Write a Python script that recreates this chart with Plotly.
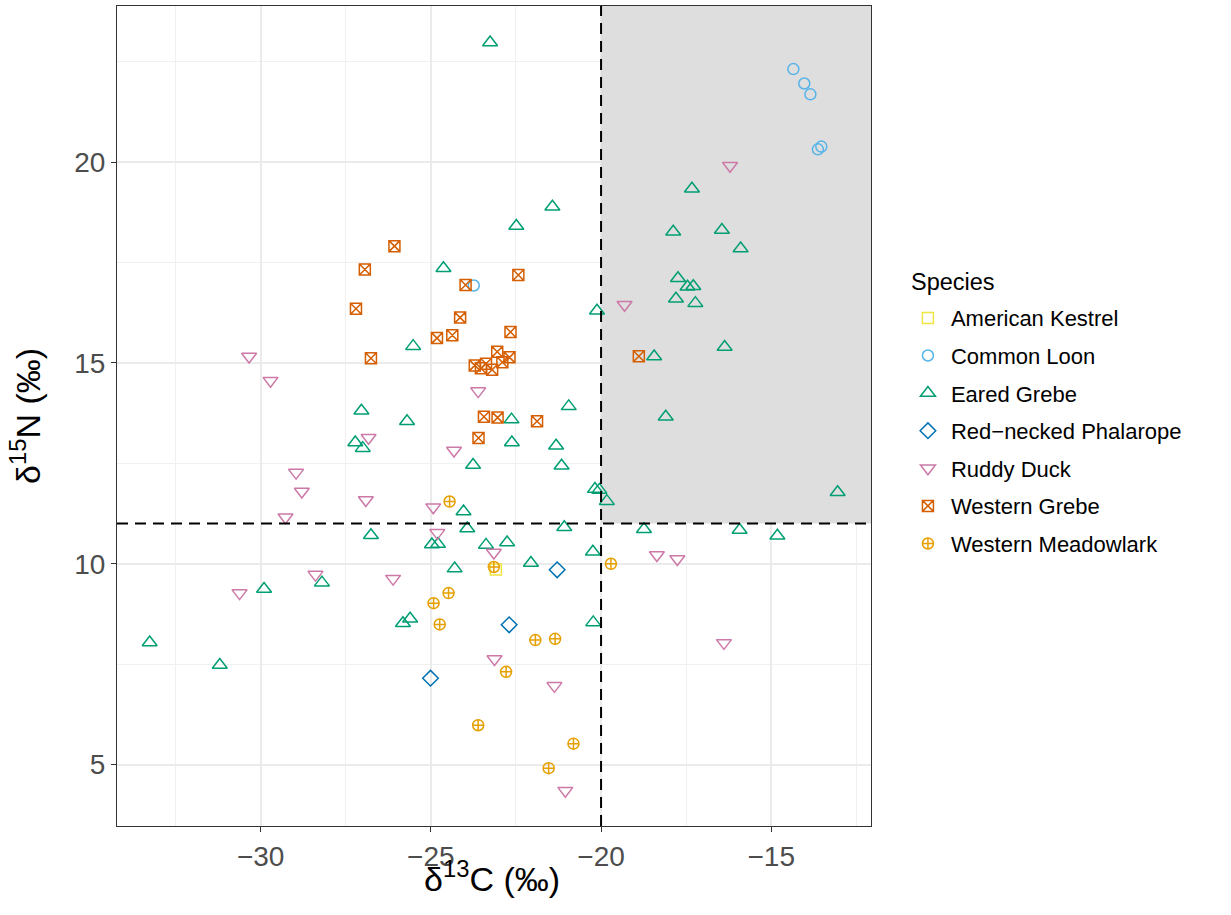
import plotly.graph_objects as go

# ---- data ----
species = ["American Kestrel", "Common Loon", "Eared Grebe", "Red\u2212necked Phalarope",
           "Ruddy Duck", "Western Grebe", "Western Meadowlark"]

kestrel_c = [-23.09]
kestrel_n = [9.86]

loon_c = [-14.35, -14.03, -13.85, -13.63, -13.53, -23.74]
loon_n = [22.32, 21.96, 21.69, 20.32, 20.39, 16.93]

eared_c = [-23.26, -21.43, -22.49, -24.63, -20.12, -25.52, -20.95, -25.70, -22.63, -22.62,
           -21.32, -23.76, -21.16, -27.04, -27.22, -27.00, -26.76, -29.90, -28.20, -33.26,
           -31.20, -25.82, -25.61, -24.04, -23.93, -24.97, -24.79, -23.38, -22.76, -24.30,
           -22.06, -20.24, -21.08, -20.18, -20.05, -19.83, -20.23, -17.33, -17.88, -16.45,
           -15.90, -17.74, -17.46, -17.29, -17.80, -17.23, -18.44, -16.37, -18.10, -13.05,
           -18.74, -15.93, -14.82]
eared_n = [22.98, 18.89, 18.41, 17.36, 16.30, 15.42, 13.92, 13.55, 13.59, 13.02,
           12.94, 12.46, 12.44, 13.81, 13.02, 12.88, 10.71, 9.37, 9.53, 8.04,
           7.48, 8.52, 8.63, 11.30, 10.88, 10.48, 10.49, 10.47, 10.53, 9.88,
           10.02, 10.30, 10.91, 11.86, 11.84, 11.56, 8.54, 19.34, 18.27, 18.31,
           17.85, 17.11, 16.90, 16.91, 16.60, 16.49, 15.16, 15.40, 13.66, 11.78,
           10.86, 10.84, 10.70]

phalarope_c = [-21.29, -22.70, -25.01]
phalarope_n = [9.85, 8.48, 7.15]

ruddy_c = [-16.21, -19.31, -30.34, -29.71, -26.83, -28.96, -23.61, -24.32, -28.79, -26.91,
           -29.27, -28.39, -30.62, -26.11, -24.93, -24.81, -23.15, -23.13, -21.37, -21.05,
           -18.36, -17.76, -16.39]
ruddy_n = [19.91, 16.45, 15.16, 14.56, 13.14, 12.27, 14.30, 12.82, 11.80, 11.59,
           11.16, 9.73, 9.27, 9.63, 11.41, 10.77, 10.28, 7.63, 6.96, 4.35,
           10.22, 10.12, 8.03]

wgrebe_c = [-26.07, -26.94, -27.20, -26.76, -22.43, -23.98, -24.14, -24.37, -24.82, -22.66,
            -23.05, -22.69, -22.90, -23.71, -23.38, -23.53, -23.20, -23.44, -23.04, -21.88,
            -23.60, -18.89]
wgrebe_n = [17.91, 17.33, 16.35, 15.12, 17.19, 16.94, 16.13, 15.69, 15.62, 15.77,
            15.28, 15.14, 15.02, 14.94, 14.98, 14.87, 14.83, 13.66, 13.64, 13.55,
            13.13, 15.17]

meadow_c = [-24.45, -23.15, -24.48, -24.92, -24.74, -19.71, -21.93, -21.35, -22.79, -23.61,
            -20.81, -21.54]
meadow_n = [11.55, 9.92, 9.27, 9.02, 8.49, 10.00, 8.10, 8.13, 7.31, 5.98,
            5.52, 4.91]

x_ticks = [-30, -25, -20, -15]
y_ticks = [5, 10, 15, 20]
c_threshold = -20
n_threshold = 11
x_range = [-34.22, -12.07]
y_range = [3.47, 23.89]

# ---- styling ----
colors = ["#F0E442", "#56B4E9", "#009E73", "#0072B2", "#CC79A7", "#D55E00", "#E69F00"]
symbols = ["square-open", "circle-open", "triangle-up-open", "diamond-open",
           "triangle-down-open", "square-x-open", "circle-cross-open"]
sizes = [11, 11, 13, 12, 13, 11, 11]
xs = [kestrel_c, loon_c, eared_c, phalarope_c, ruddy_c, wgrebe_c, meadow_c]
ys = [kestrel_n, loon_n, eared_n, phalarope_n, ruddy_n, wgrebe_n, meadow_n]

FONT = "Liberation Sans, Arial, Helvetica, sans-serif"

fig = go.Figure()
for name, cx, ny, col, sym, sz in zip(species, xs, ys, colors, symbols, sizes):
    fig.add_trace(go.Scatter(
        x=cx, y=ny, mode="markers", name=name, legendgroup=name,
        marker=dict(symbol=sym, size=sz, color=col, line=dict(color=col, width=1.5)),
    ))

# shaded quadrant
fig.add_shape(type="rect", xref="x", yref="y", x0=c_threshold, x1=x_range[1],
              y0=n_threshold, y1=y_range[1], fillcolor="#DEDEDE",
              line=dict(width=0), layer="between")
# dashed reference lines
fig.add_shape(type="line", xref="x", yref="y", x0=c_threshold, x1=c_threshold,
              y0=y_range[0], y1=y_range[1],
              line=dict(color="black", width=2, dash="11px,7px"), layer="above")
fig.add_shape(type="line", xref="x", yref="y", x0=x_range[0], x1=x_range[1],
              y0=n_threshold, y1=n_threshold,
              line=dict(color="black", width=2, dash="11px,7px"), layer="above")

axis_common = dict(
    showgrid=True, gridcolor="#EBEBEB", gridwidth=1.5, zeroline=False,
    showline=True, mirror=True, linecolor="#333333", linewidth=1,
    ticks="outside", ticklen=5, tickwidth=1, tickcolor="#333333",
    tickfont=dict(family=FONT, size=28, color="#4D4D4D"),
)
minor_grid = dict(dtick=2.5, tick0=0, showgrid=True, gridcolor="#F0F0F0", gridwidth=0.8, ticks="")

fig.update_xaxes(range=x_range, tickvals=x_ticks, ticktext=["\u2212" + str(abs(v)) for v in x_ticks],
                 minor=minor_grid, **axis_common)
fig.update_yaxes(range=y_range, tickvals=y_ticks, ticktext=[str(v) for v in y_ticks],
                 minor=minor_grid, **axis_common)

fig.add_annotation(text="\u03b4<sup>13</sup>C (\u2030)", xref="paper", yref="paper",
                   x=0.497, y=-0.062, xanchor="center", yanchor="middle", showarrow=False,
                   font=dict(family=FONT, size=34, color="black"))
fig.add_annotation(text="\u03b4<sup>15</sup>N (\u2030)", xref="paper", yref="paper",
                   x=-0.122, y=0.5, xanchor="center", yanchor="middle", showarrow=False,
                   textangle=-90, font=dict(family=FONT, size=34, color="black"))
# legend title
fig.add_annotation(text="Species", xref="paper", yref="paper",
                   x=1.0504, y=0.6636, xanchor="left", yanchor="middle", showarrow=False,
                   font=dict(family=FONT, size=23.5, color="black"))

fig.update_layout(
    width=1231, height=915,
    margin=dict(l=117, r=360, t=6, b=89),
    paper_bgcolor="white", plot_bgcolor="white",
    font=dict(family=FONT, color="black"),
    legend=dict(
        font=dict(family=FONT, size=22, color="black"),
        x=1.045, xanchor="left", y=0.645, yanchor="top",
        tracegroupgap=6, bgcolor="rgba(0,0,0,0)", itemwidth=36,
    ),
)

fig.write_html("out.html", config={"displayModeBar": False},
               post_script="document.body.style.margin='0';document.body.style.overflow='hidden';")
